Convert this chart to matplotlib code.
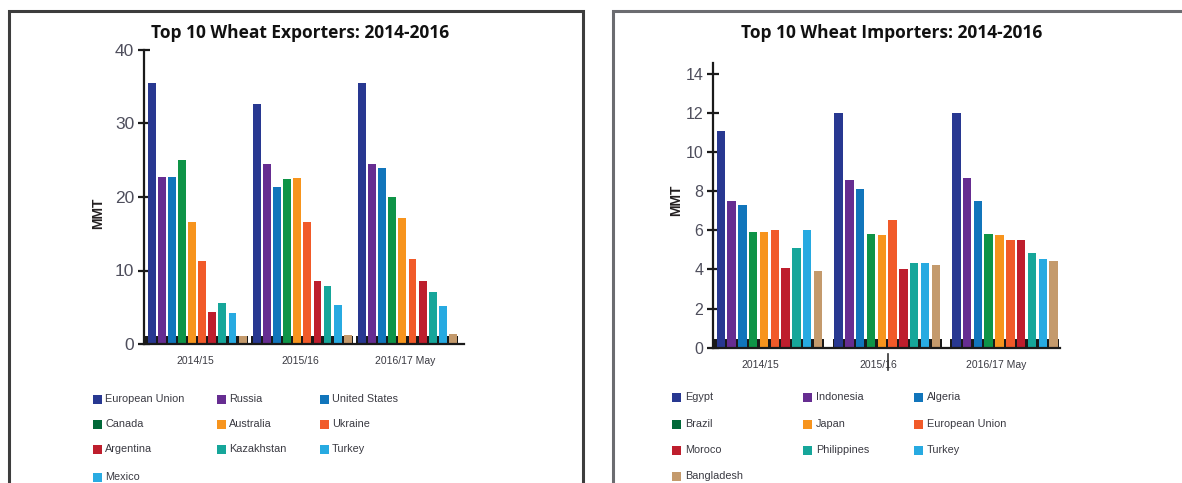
import numpy as np
import matplotlib
matplotlib.use("Agg")
import matplotlib.pyplot as plt
from matplotlib.patches import Rectangle
from matplotlib.lines import Line2D
import matplotlib.transforms as mtransforms

# ---- data -------------------------------------------------------------
seasons = ["2014/15", "2015/16", "2016/17 May"]

exporters = ["European Union", "Russia", "United States", "Canada", "Australia",
             "Ukraine", "Argentina", "Kazakhstan", "Turkey", "Mexico"]
exp_2014 = [35.5, 22.7, 22.7, 25.0, 16.6, 11.3, 4.3, 5.6, 4.2, 1.1]
exp_2015 = [32.6, 24.5, 21.3, 22.4, 22.6, 16.6, 8.6, 7.9, 5.3, 1.2]
exp_2016 = [35.5, 24.5, 24.0, 20.0, 17.1, 11.6, 8.6, 7.1, 5.2, 1.3]

importers = ["Egypt", "Indonesia", "Algeria", "Brazil", "Japan",
             "European Union", "Moroco", "Philippines", "Turkey", "Bangladesh"]
imp_2014 = [11.1, 7.5, 7.3, 5.9, 5.9, 6.0, 4.1, 5.1, 6.0, 3.9]
imp_2015 = [12.0, 8.6, 8.1, 5.8, 5.75, 6.55, 4.05, 4.35, 4.35, 4.25]
imp_2016 = [12.0, 8.7, 7.5, 5.8, 5.75, 5.5, 5.5, 4.85, 4.55, 4.45]

exp_yticks = [0, 10, 20, 30, 40]
imp_yticks = [0, 2, 4, 6, 8, 10, 12, 14]

# ---- styling ----------------------------------------------------------
bar_colors = ["#283891", "#662d91", "#1175bb", "#0e9447", "#f7941d",
              "#f15a29", "#be1e2d", "#16a69a", "#27aae1", "#c49a6c"]
exp_legend_colors = ["#283891", "#662d91", "#1175bb", "#006838", "#f7941d",
                     "#f15a29", "#be1e2d", "#16a69a", "#27aae1", "#29abe2"]
imp_legend_colors = ["#283891", "#662d91", "#1175bb", "#006838", "#f7941d",
                     "#f15a29", "#be1e2d", "#16a69a", "#27aae1", "#c49a6c"]

W, H = 1182, 483
fig = plt.figure(figsize=(W / 100, H / 100), dpi=100)
fig.patch.set_facecolor("white")

TICK_COLOR = "#4e4e5c"
TEXT_COLOR = "#3a3a42"
SANS = ["Liberation Sans", "DejaVu Sans"]


def px_box(x0, y_top, x1, y_bottom):
    """Figure-fraction box from pixel edges (origin top-left)."""
    return [x0 / W, 1 - y_bottom / H, (x1 - x0) / W, (y_bottom - y_top) / H]


def fx(x):
    return x / W


def fy(y):
    return 1 - y / H


def draw_panel(ax, series, ymax, yticks, band_h, group_pitch, xlim,
               ytick_size, label_shift_px):
    n = len(series[0])
    centers = []
    for g, vals in enumerate(series):
        x = g * group_pitch + np.arange(n)
        centers.append(x.mean())
        # dark base strip under each group of bars
        left = xlim[0] if g == 0 else x[0] - 0.55
        right = x[-1] + 0.55
        ax.bar((left + right) / 2, band_h, width=right - left,
               color="#1a1a1a", zorder=1, linewidth=0)
        ax.bar(x, vals, width=0.78, color=bar_colors, linewidth=0, zorder=2)
    ax.set_xlim(*xlim)
    ax.set_ylim(0, ymax)
    ax.set_yticks(yticks)
    ax.set_xticks(centers)
    ax.set_xticklabels(seasons, fontsize=7.5, color=TEXT_COLOR,
                       family=SANS)
    for sp in ("top", "right"):
        ax.spines[sp].set_visible(False)
    for sp in ("left", "bottom"):
        ax.spines[sp].set_linewidth(1.6)
        ax.spines[sp].set_color("#1a1a1a")
    ax.tick_params(axis="y", direction="inout", length=8, width=1.6,
                   color="#1a1a1a", labelsize=ytick_size,
                   labelcolor=TICK_COLOR, pad=3)
    ax.tick_params(axis="x", length=0, pad=9)
    for lab in ax.get_yticklabels():
        lab.set_family(SANS)
    if label_shift_px:
        off = mtransforms.ScaledTranslation(label_shift_px / 100, 0,
                                            fig.dpi_scale_trans)
        for lab in ax.get_xticklabels():
            lab.set_transform(lab.get_transform() + off)
    return centers


# ---- exporters panel ---------------------------------------------------
ax1 = fig.add_axes(px_box(144, 50, 464, 344))
draw_panel(ax1, [exp_2014, exp_2015, exp_2016], 40, exp_yticks, 1.1,
           10.4, (-0.76, 30.9), 12.5, -2)

# ---- importers panel ---------------------------------------------------
ax2 = fig.add_axes(px_box(713, 63, 1060, 347.7))
c2 = draw_panel(ax2, [imp_2014, imp_2015, imp_2016], 14.56, imp_yticks,
                0.42, 10.9, (-0.72, 31.4), 11.5, -9)
# stray category tick under the middle season
tick_tr = mtransforms.blended_transform_factory(ax2.transData, fig.transFigure)
ax2.add_line(Line2D([c2[1] + 0.1, c2[1] + 0.1], [fy(354), fy(370)],
                    transform=tick_tr, color="#333333", lw=1.2,
                    clip_on=False))

# ---- titles and axis labels ------------------------------------------
fig.text(fx(300), fy(33), "Top 10 Wheat Exporters: 2014-2016",
         ha="center", va="center", fontsize=12.5, fontweight="bold",
         family=["Open Sans", "DejaVu Sans"], color="#111111")
fig.text(fx(892), fy(33), "Top 10 Wheat Importers: 2014-2016",
         ha="center", va="center", fontsize=12.5, fontweight="bold",
         family=["Open Sans", "DejaVu Sans"], color="#111111")
fig.text(fx(98), fy(213), "MMT", rotation=90, ha="center", va="center",
         fontsize=10, fontweight="bold", family=SANS, color="#231f20")
fig.text(fx(676), fy(200), "MMT", rotation=90, ha="center", va="center",
         fontsize=10, fontweight="bold", family=SANS, color="#231f20")


# ---- legends -----------------------------------------------------------
def draw_legend(names, colors, col_x, row_y, text_gap):
    for i, (name, col) in enumerate(zip(names, colors)):
        cx = col_x[i % 3]
        cy = row_y[i // 3]
        sq = 9
        fig.add_artist(Rectangle((fx(cx), fy(cy + sq / 2)), sq / W, sq / H,
                                 transform=fig.transFigure, facecolor=col,
                                 edgecolor="none"))
        fig.text(fx(cx + text_gap), fy(cy), name, ha="left", va="center",
                 fontsize=7.8, family=SANS, color=TEXT_COLOR)


draw_legend(exporters, exp_legend_colors, [93, 217, 320],
            [399, 424, 449, 477], 12)
draw_legend(importers, imp_legend_colors, [672, 803, 914],
            [397, 424, 450, 476], 13)

# ---- panel frames --------------------------------------------------------
fig.add_artist(Line2D([fx(9), fx(9), fx(583), fx(583)],
                      [fy(490), fy(10.5), fy(10.5), fy(490)],
                      transform=fig.transFigure, color="#3d3d3d", lw=2.2,
                      solid_joinstyle="miter"))
fig.add_artist(Line2D([fx(613), fx(613), fx(1190)],
                      [fy(490), fy(10.5), fy(10.5)],
                      transform=fig.transFigure, color="#6b6c70", lw=2.2,
                      solid_joinstyle="miter"))

fig.savefig("out.png", dpi=100)
